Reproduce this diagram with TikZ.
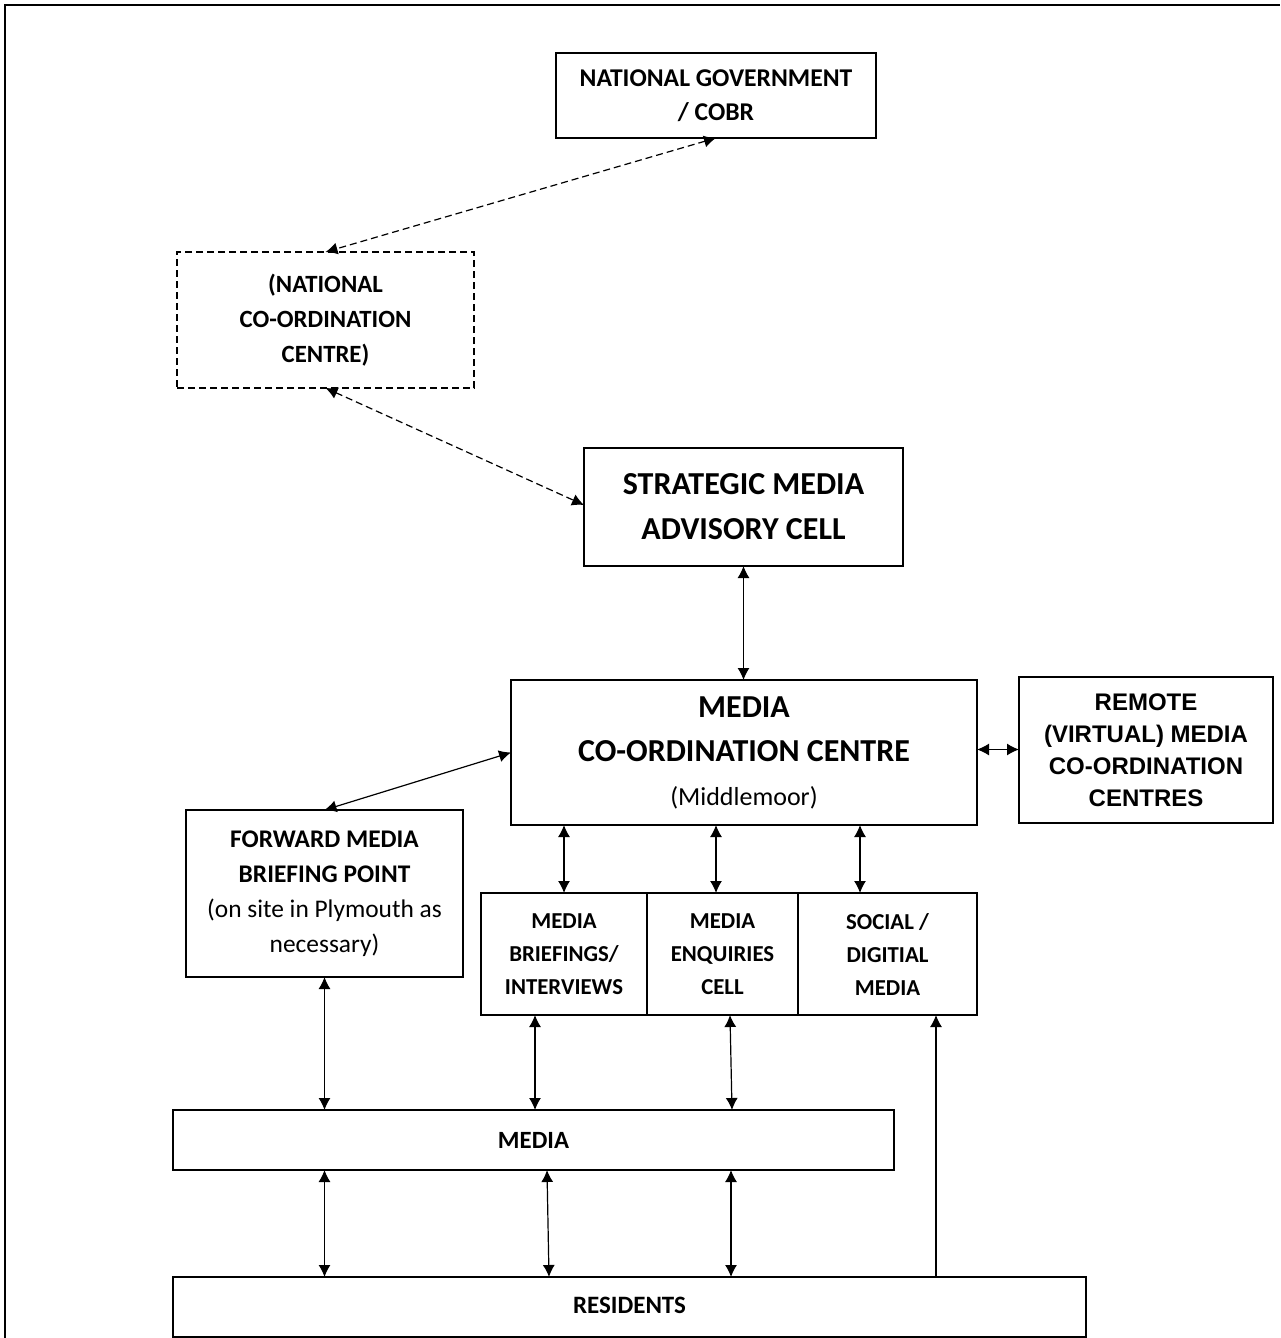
\documentclass[tikz,border=0pt]{standalone}
\usepackage{fontspec}
\setmainfont{Carlito}
\newfontfamily\arialfont{Liberation Sans}
\usetikzlibrary{arrows.meta,calc}
\def\fs#1#2{\fontsize{#1}{#2}\selectfont}

\begin{document}
\begin{tikzpicture}[x=0.5pt,y=0.5pt,yscale=-1,xscale=1,
	>={Latex[length=6pt,width=6pt]},
	box/.style={draw, line width=0.7pt, inner sep=0pt, outer sep=0pt, align=center},
	dashbox/.style={box, dash pattern=on 3.5pt off 2pt},
	link/.style={<->, line width=0.6pt},
	dashlink/.style={link, dash pattern=on 3.5pt off 2pt}]
	\useasboundingbox (0,0) rectangle (1280,1338);
	% frame
	\draw [line width=1.1pt] (5,1338) -- (5,5) -- (1280,5) ;
	% boxes
	\node (cobr) [box, minimum width=160pt, minimum height=42.5pt, font={\fs{12.8}{17}\bfseries}] at (716,95.5) {NATIONAL GOVERNMENT\\/ COBR};
	\node (ncc) [dashbox, minimum width=148.5pt, minimum height=68pt, font={\fs{12.4}{17.5}\bfseries}] at (325.5,320) {(NATIONAL\\CO-ORDINATION\\CENTRE)};
	\node (smac) [box, minimum width=159.5pt, minimum height=59pt, font={\fs{16}{22.5}\bfseries}] at (743.5,507) {STRATEGIC MEDIA\\ADVISORY CELL};
	\node (mcc) [box, minimum width=233pt, minimum height=72.5pt, font={\fs{16}{22}\bfseries}] at (744,752.5) {MEDIA\\CO-ORDINATION CENTRE\\{\fs{13}{19}\mdseries(Middlemoor)}};
	\node (remote) [box, line width=1.1pt, minimum width=127pt, minimum height=73pt, font={\arialfont\fs{12}{16}\bfseries}] at (1146,750) {REMOTE\\(VIRTUAL) MEDIA\\CO-ORDINATION\\CENTRES};
	\node (fmbp) [box, minimum width=138.5pt, minimum height=83.5pt, font={\fs{12.7}{17.5}\bfseries}] at (324.5,893.5) {FORWARD MEDIA\\BRIEFING POINT\\{\mdseries(on site in Plymouth as}\\{\mdseries necessary)}};
	\node (brief) [box, minimum width=83pt, minimum height=61pt, font={\fs{11.4}{16.5}\bfseries}] at (564,954) {MEDIA\\BRIEFINGS/\\INTERVIEWS};
	\node (enq) [box, minimum width=75.5pt, minimum height=61pt, font={\fs{11.4}{16.5}\bfseries}] at (722.5,954) {MEDIA\\ENQUIRIES\\CELL};
	\node (social) [box, minimum width=89.5pt, minimum height=61pt, font={\fs{11.4}{16.5}\bfseries}] at (887.5,954) {SOCIAL /\\DIGITIAL\\MEDIA};
	\node (media) [box, minimum width=360.5pt, minimum height=30pt, font={\fs{12.4}{15}\bfseries}] at (533.5,1140) {MEDIA};
	\node (res) [box, minimum width=456.5pt, minimum height=30pt, font={\fs{12.5}{15}\bfseries}] at (629.5,1307) {\raisebox{2pt}{RESIDENTS}};
	\draw [line width=1.1pt] (res.east) -- (res.south east) ;
	% links
	\draw [dashlink] (cobr.south) -- (ncc.north) ;
	\draw [dashlink] (ncc.south) -- ($(smac.west)+(0,-2)$) ;
	\draw [link] (smac.south) -- (smac.south |- mcc.north) ;
	\draw [link] (mcc.west) -- (fmbp.north) ;
	\draw [link] ($(mcc.east)+(0,-3)$) -- ($(mcc.east -| remote.west)+(0,-3)$) ;
	\draw [link] (brief.north |- mcc.south) -- (brief.north) ;
	\draw [link] ($(enq.north |- mcc.south)+(-6.5,0)$) -- ($(enq.north)+(-6.5,0)$) ;
	\draw [link] ($(social.north |- mcc.south)+(-27.5,0)$) -- ($(social.north)+(-27.5,0)$) ;
	\draw [link] (fmbp.south) -- (fmbp.south |- media.north) ;
	\draw [link] ($(brief.south)+(-29,0)$) -- ($(brief.south |- media.north)+(-29,0)$) ;
	\draw [link] ($(enq.south)+(7.5,0)$) -- ($(enq.south |- media.north)+(9.5,0)$) ;
	\draw [link] ($(media.south -| fmbp.south)$) -- ($(res.north -| fmbp.south)$) ;
	\draw [link] ($(media.south)+(13.5,0)$) -- ($(media.south |- res.north)+(15.5,0)$) ;
	\draw [link] ($(media.south)+(197.5,0)$) -- ($(media.south |- res.north)+(197.5,0)$) ;
	\draw [->, line width=0.6pt] ($(res.north)+(306.5,0)$) -- ($(social.south)+(48.5,0)$) ;
\end{tikzpicture}
\end{document}
